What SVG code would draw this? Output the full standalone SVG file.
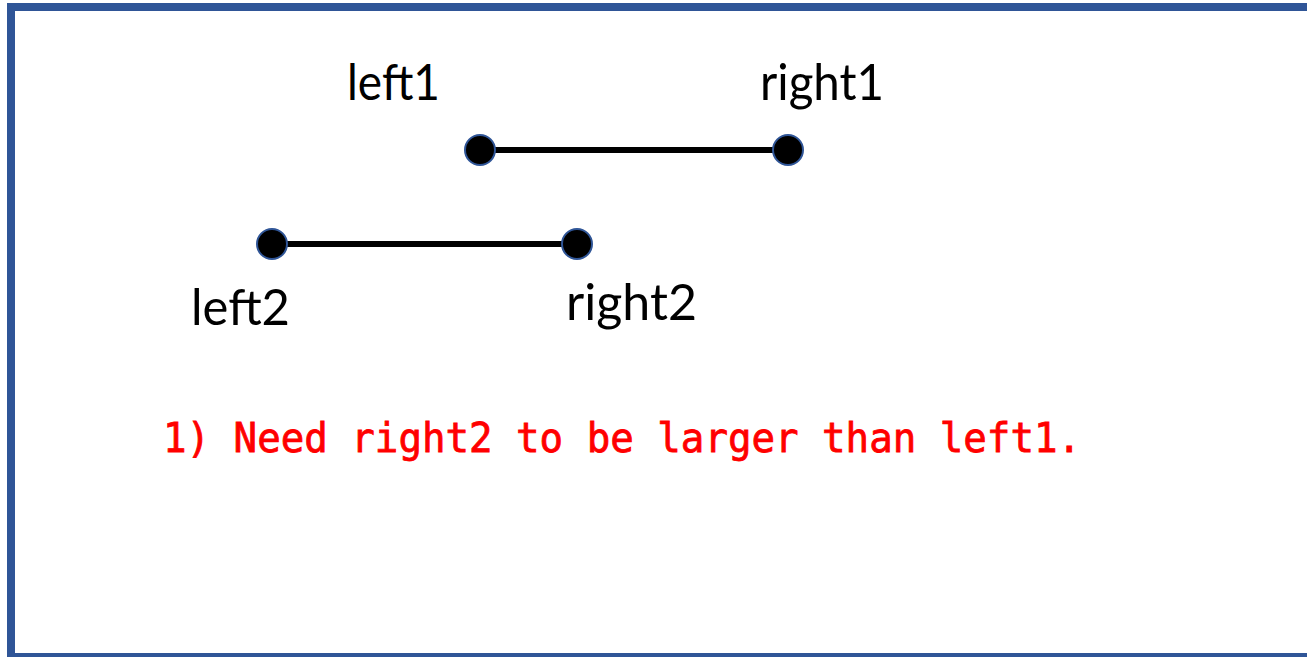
<svg xmlns="http://www.w3.org/2000/svg" width="1307" height="657" viewBox="0 0 1307 657">
<style>
.lbl{font-family:"Lato","Open Sans","Liberation Sans",sans-serif;font-size:50px;fill:#000}
.dot{fill:#000;stroke:#2F5597;stroke-width:2}
.seg{stroke:#000;stroke-width:6}
.note{font-family:"DejaVu Sans Mono","Liberation Mono",monospace;font-size:40px;fill:#FF0000;stroke:#FF0000;stroke-width:0.8}
</style>
<rect x="0" y="0" width="1307" height="657" fill="#fff"/>
<rect id="frame" x="11" y="7" width="1320" height="650" fill="none" stroke="#2F5597" stroke-width="8"/>
<g id="connectors">
<line class="seg" x1="480" y1="150" x2="788" y2="150"/>
<line class="seg" x1="272" y1="244" x2="577" y2="244"/>
</g>
<g id="left1"><circle class="dot" cx="480" cy="150" r="15"/><text class="lbl" x="347" y="100" textLength="93" lengthAdjust="spacingAndGlyphs">left1</text></g>
<g id="right1"><circle class="dot" cx="788" cy="150" r="15"/><text class="lbl" x="760" y="100" textLength="124" lengthAdjust="spacingAndGlyphs">right1</text></g>
<g id="left2"><circle class="dot" cx="272" cy="244" r="15"/><text class="lbl" x="191" y="325" textLength="99" lengthAdjust="spacingAndGlyphs">left2</text></g>
<g id="right2"><circle class="dot" cx="577" cy="244" r="15"/><text class="lbl" x="566" y="320" textLength="131" lengthAdjust="spacingAndGlyphs">right2</text></g>
<text id="note" class="note" x="163" y="452" textLength="918" lengthAdjust="spacingAndGlyphs">1) Need right2 to be larger than left1.</text>
</svg>
